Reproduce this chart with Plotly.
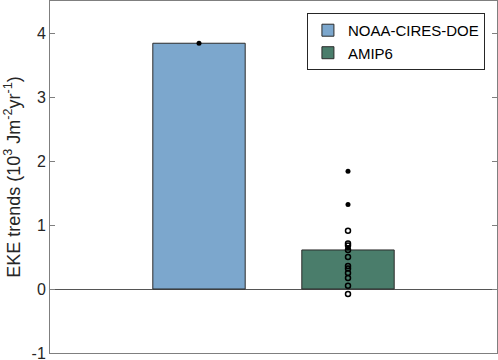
import plotly.graph_objects as go

# bar values (EKE trends, 10^3 J m^-2 yr^-1)
datasets = ["NOAA-CIRES-DOE", "AMIP6"]
positions = [1, 2]
bar_values = [3.84, 0.61]
bar_colors = ["#7ca7cd", "#4a7d6b"]

# individual members
noaa_point = [3.84]
amip_filled = [1.84, 1.32, 0.64]
amip_open = [0.91, 0.71, 0.68, 0.61, 0.50, 0.36, 0.32, 0.25, 0.17, 0.05, -0.08]

y_ticks = [-1, 0, 1, 2, 3, 4]
y_labels = ["-1", "0", "1", "2", "3", "4"]

fig = go.Figure()
for name, x, val, col in zip(datasets, positions, bar_values, bar_colors):
    fig.add_trace(go.Bar(
        x=[x], y=[val], name=name, width=0.62,
        marker=dict(color=col, line=dict(color="#2b2b2b", width=1)),
    ))

fig.add_trace(go.Scatter(
    x=[1] * len(noaa_point), y=noaa_point, mode="markers", showlegend=False,
    marker=dict(symbol="circle", size=5, color="black"),
))
fig.add_trace(go.Scatter(
    x=[2] * len(amip_open), y=amip_open, mode="markers", showlegend=False,
    marker=dict(symbol="circle-open", size=5, color="black", line=dict(width=1.5)),
))
fig.add_trace(go.Scatter(
    x=[2] * len(amip_filled), y=amip_filled, mode="markers", showlegend=False,
    marker=dict(symbol="circle", size=5, color="black"),
))

axis_col = "#7f7f7f"
fig.update_xaxes(
    range=[0, 3], showticklabels=False, ticks="", showgrid=False,
    showline=True, linecolor=axis_col, mirror=True, zeroline=False,
    automargin=False,
)
fig.update_yaxes(
    range=[-1, 4.5], tickvals=y_ticks, ticktext=y_labels, ticks="inside", ticklen=5,
    tickcolor=axis_col, showgrid=False, showline=True, linecolor=axis_col,
    mirror="ticks", zeroline=True, zerolinecolor="#555555", zerolinewidth=1,
    tickfont=dict(size=16, color="#262626"), automargin=False,
    ticklabeloverflow="allow",
    title=dict(text="EKE trends (10<sup>3</sup> Jm<sup>-2</sup>yr<sup>-1</sup>)",
               font=dict(size=18, color="#262626"), standoff=6),
)

fig.update_layout(
    width=498, height=360,
    margin=dict(l=50, r=1, t=1, b=7, autoexpand=False),
    plot_bgcolor="white", paper_bgcolor="white",
    font=dict(family="Liberation Sans, Arial, sans-serif", color="#262626"),
    barmode="overlay",
    legend=dict(
        x=0.973, y=0.966, xanchor="right", yanchor="top",
        bordercolor="#262626", borderwidth=1, bgcolor="white",
        font=dict(size=15, color="black"), tracegroupgap=0,
        itemwidth=30,
    ),
)

fig.write_html(
    "out.html",
    config={"displayModeBar": False},
    post_script="document.body.style.margin='0';document.body.style.overflow='hidden';",
)
